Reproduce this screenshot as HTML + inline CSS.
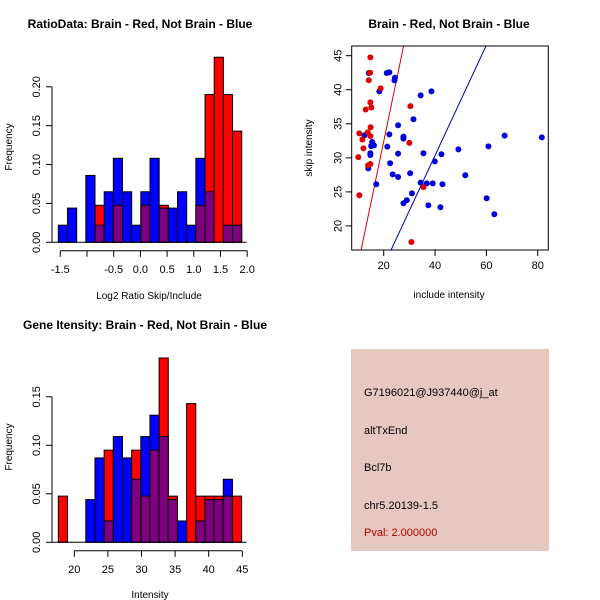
<!DOCTYPE html>
<html><head><meta charset="utf-8"><style>
html,body{margin:0;padding:0;background:#fff;width:600px;height:600px;overflow:hidden}
svg{display:block;font-family:"Liberation Sans",Arial,sans-serif}
</style></head><body>
<svg id="s" width="600" height="600" viewBox="0 0 600 600">
<rect x="351" y="349" width="198" height="202" fill="#E6C8C0"/>
<text x="364" y="396" font-size="11">G7196021@J937440@j_at</text>
<text x="364" y="434" font-size="11">altTxEnd</text>
<text x="364" y="471" font-size="11">Bcl7b</text>
<text x="364" y="509" font-size="11">chr5.20139-1.5</text>
<text x="364" y="536" font-size="11" fill="#B00000">Pval: 2.000000</text>
</svg>
<script>
// ratio histogram data
const ratioStart = -1.537, ratioBinW = 0.1717;
const ratioBlue = [0.022,0.044,0,0.086,0.022,0.065,0.108,0.065,0.022,0.065,0.108,0.044,0.044,0.065,0.022,0.108,0.065,0,0.022,0.022];
const ratioRed = [0,0,0,0,0.0476,0,0.0476,0,0,0.0476,0,0.0476,0,0,0,0.0476,0.19,0.238,0.19,0.143];
const ratioXTicks = [-1.5,-1.0,-0.5,0.0,0.5,1.0,1.5,2.0];
const ratioXLabels = ["-1.5","","-0.5","0.0","0.5","1.0","1.5","2.0"];
const ratioYTicks = [0,0.05,0.10,0.15,0.20];
const ratioYLabels = ["0.00","0.05","0.10","0.15","0.20"];
// intensity histogram data
const intStart = 17.62, intBinW = 1.364;
const intBlue = [0,0,0,0.044,0.087,0.022,0.109,0.087,0.065,0.109,0.131,0.109,0.044,0.022,0,0.022,0.044,0.044,0.065,0];
const intRed = [0.0476,0,0,0,0,0.095,0,0,0.095,0.0476,0.095,0.190,0.0476,0,0.143,0.0476,0.0476,0.0476,0.0476,0.0476];
const intXTicks = [20,25,30,35,40,45];
const intYTicks = [0,0.05,0.10,0.15];
const intYLabels = ["0.00","0.05","0.10","0.15"];
// scatter data
const redX = [14.8,14.7,14.2,18.8,14.8,15.2,13.0,30.4,14.9,13.8,10.5,11.7,14.8,12.1,10.1,30.0,14.8,13.9,10.5,35.5,30.8];
const redY = [44.76,42.5,41.4,40.2,38.15,37.4,37.1,37.6,34.5,33.75,33.6,32.7,33.2,31.4,30.1,32.2,29.1,28.9,24.5,25.7,17.65];
const blueX = [14.2,21.2,22.2,24.4,24.2,18.3,34.4,38.6,31.6,25.6,12.5,22.2,27.7,27.7,15.5,16.2,15.1,21.4,14.8,14.8,25.6,35.5,42.5,49.1,60.8,67.1,81.6,14.0,22.5,23.5,25.6,30.3,39.9,17.1,34.4,36.8,39.1,42.9,51.8,31.0,29.0,27.7,37.4,42.1,60.1,63.1];
const blueY = [42.46,42.46,42.55,41.77,41.38,39.76,39.18,39.76,35.66,34.78,33.31,33.45,33.11,32.82,32.33,31.84,31.74,31.64,30.67,30.42,30.62,30.67,30.52,31.25,31.69,33.26,33.01,28.46,29.20,27.58,27.19,27.73,29.49,26.12,26.36,26.26,26.26,26.12,27.44,24.79,23.77,23.33,23.03,22.74,24.06,21.71];
const redLine = [-3.8, 1.81];   // intercept, slope
const blueLine = [-2.05, 0.81];
const scXTicks = [20,40,60,80];
const scYTicks = [20,25,30,35,40,45];

const NS="http://www.w3.org/2000/svg", S=document.getElementById('s');
function mk(t,a,txt){const e=document.createElementNS(NS,t);for(const k in a)e.setAttribute(k,a[k]);if(txt!==undefined)e.textContent=txt;S.appendChild(e);return e;}
function txt(x,y,s,size,opts){const e=mk('text',Object.assign({x:x,y:y,'font-size':size,'text-anchor':'middle'},opts||{}),s);return e;}

function hist(cfg){
  const X=v=>cfg.x0+(v-cfg.v0)*cfg.kx, Y=v=>cfg.y0-v*cfg.ky;
  for(let i=0;i<cfg.blue.length;i++){
    const a=cfg.start+i*cfg.bw, b=a+cfg.bw, bl=cfg.blue[i], rd=cfg.red[i];
    const hi=Math.max(bl,rd), lo=Math.min(bl,rd);
    if(hi>0){const r=mk('rect',{x:X(a),y:Y(hi),width:X(b)-X(a),height:Y(0)-Y(hi),fill:bl>=rd?'#0000FF':'#FF0000',stroke:'#000','stroke-width':1});
      
      }
    if(lo>0){const r=mk('rect',{x:X(a),y:Y(lo),width:X(b)-X(a),height:Y(0)-Y(lo),fill:'#7F007F',stroke:'#000','stroke-width':1});
      
      }
  }
  // x axis
  const ax=cfg.y0+8.5;
  const l=mk('line',{x1:X(cfg.xt[0]),x2:X(cfg.xt[cfg.xt.length-1]),y1:ax,y2:ax,stroke:'#000'});
  
  
  cfg.xt.forEach((v,i)=>{mk('line',{x1:X(v),x2:X(v),y1:ax,y2:ax+6,stroke:'#000'});
    const t=txt(X(v),ax+22,cfg.xl[i],11);
    
    });
  // y axis
  const yx=cfg.x0axis;
  const l2=mk('line',{x1:yx,x2:yx,y1:Y(cfg.yt[0]),y2:Y(cfg.yt[cfg.yt.length-1]),stroke:'#000'});
  
  
  cfg.yt.forEach((v,i)=>{mk('line',{x1:yx-6,x2:yx,y1:Y(v),y2:Y(v),stroke:'#000'});
    const t=txt(0,0,cfg.yl[i],11,{transform:`translate(${yx-12},${Y(v)}) rotate(-90)`});
    
    });
  const bl=mk('line',{x1:yx,x2:X(cfg.start+cfg.bw*cfg.blue.length)+5,y1:Y(0),y2:Y(0),stroke:'#000'});
  
  
}
hist({name:'ratio',x0:60.3,v0:-1.5,kx:53.4,y0:242.3,ky:777.5,start:ratioStart,bw:ratioBinW,blue:ratioBlue,red:ratioRed,xt:ratioXTicks,xl:ratioXLabels,yt:ratioYTicks,yl:ratioYLabels,x0axis:52});
hist({name:'intensity',x0:74.3,v0:20,kx:6.72,y0:542.3,ky:970,start:intStart,bw:intBinW,blue:intBlue,red:intRed,xt:intXTicks,xl:intXTicks.map(String),yt:intYTicks,yl:intYLabels,x0axis:52});

// scatter
const bx0=351.7,bx1=548.3,by0=46,by1=250;
const SX=v=>383.7+(v-20)*2.567, SY=v=>55.7+(45-v)*6.81;
const cp=mk('clipPath',{id:'cp'});const cr=document.createElementNS(NS,'rect');
cr.setAttribute('x',bx0);cr.setAttribute('y',by0);cr.setAttribute('width',bx1-bx0);cr.setAttribute('height',by1-by0);cp.appendChild(cr);
[[redLine,'#DD0000','red-fit-line'],[blueLine,'#0000AA','blue-fit-line']].forEach(([ln,c,n])=>{
  const xa=0,xb=100;const l=mk('line',{x1:SX(xa),y1:SY(ln[0]+ln[1]*xa),x2:SX(xb),y2:SY(ln[0]+ln[1]*xb),stroke:c,'clip-path':'url(#cp)'});
  
  });
blueX.forEach((v,i)=>{const c=mk('circle',{cx:SX(v),cy:SY(blueY[i]),r:3,fill:'#0000DD'});
  
  });
redX.forEach((v,i)=>{const c=mk('circle',{cx:SX(v),cy:SY(redY[i]),r:3,fill:'#DD0000'});
  
  });
const box=mk('rect',{x:bx0,y:by0,width:bx1-bx0,height:by1-by0,fill:'none',stroke:'#000'});


scXTicks.forEach(v=>{mk('line',{x1:SX(v),x2:SX(v),y1:by1,y2:by1+6,stroke:'#000'});
  const t=txt(SX(v),by1+19,String(v),11);
  
  });
scYTicks.forEach(v=>{mk('line',{x1:bx0-6,x2:bx0,y1:SY(v),y2:SY(v),stroke:'#000'});
  const t=txt(0,0,String(v),11,{transform:`translate(${bx0-10},${SY(v)}) rotate(-90)`});
  
  });

// titles & axis labels
const labels=[
 [140,28,'RatioData: Brain - Red, Not Brain - Blue',12,{'font-weight':'bold'},'ratio-title'],
 [449,28,'Brain - Red, Not Brain - Blue',12,{'font-weight':'bold'},'scatter-title'],
 [145,329,'Gene Itensity: Brain - Red, Not Brain - Blue',12,{'font-weight':'bold'},'intensity-title'],
 [149,299,'Log2 Ratio Skip/Include',10,{},'ratio-x-label'],
 [449,298,'include intensity',10,{},'scatter-x-label'],
 [150,598,'Intensity',10,{},'intensity-x-label'],
 [0,0,'Frequency',10,{transform:'translate(12,147) rotate(-90)'},'ratio-y-label'],
 [0,0,'skip intensity',10,{transform:'translate(312,148) rotate(-90)'},'scatter-y-label'],
 [0,0,'Frequency',10,{transform:'translate(12,447) rotate(-90)'},'intensity-y-label']];
labels.forEach(([x,y,s,sz,o,n])=>{const t=txt(x,y,s,sz,o);
  
  });
</script>
</body></html>
